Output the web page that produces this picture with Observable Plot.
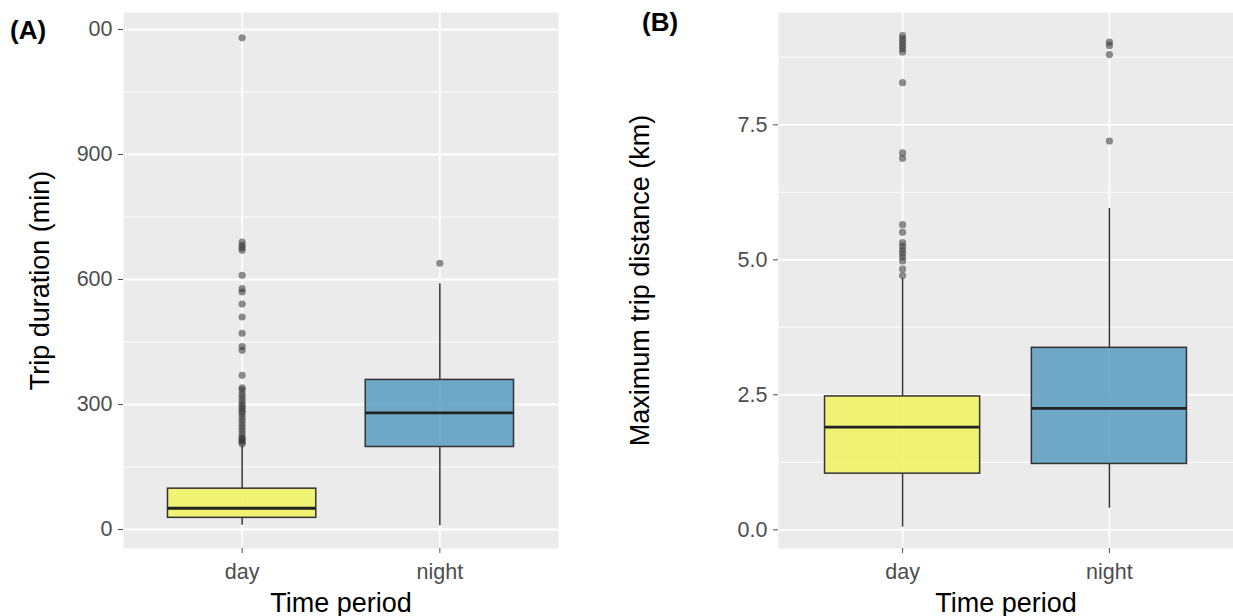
<!DOCTYPE html>
<html>
<head>
<meta charset="utf-8">
<script src="https://cdn.jsdelivr.net/npm/d3@7"></script>
<script src="https://cdn.jsdelivr.net/npm/@observablehq/plot@0.6"></script>
<style>
  html, body { margin: 0; padding: 0; background: #fff; }
  #wrap { position: relative; width: 1233px; height: 616px; overflow: hidden; font-family: "Liberation Sans", Arial, sans-serif; }
  .panel { position: absolute; top: 0; }
  .tag { position: absolute; font-family: "Liberation Sans", Arial, sans-serif; font-weight: bold; font-size: 26px; color: #000; background: #fff; line-height: 1; }
</style>
</head>
<body>
<div id="wrap">
  <div class="panel" id="pA" style="left:0px"></div>
  <div class="panel" id="pB" style="left:600px"></div>
  <div class="tag" style="left:0px;top:0px;width:88px;height:44px;padding:17px 0 0 10px;box-sizing:border-box;">(A)</div>
  <div class="tag" style="left:642px;top:9px;">(B)</div>
</div>
<script>
// ---- data ----
const periods = ["day", "night"];
const periodColors = ["#F1F35F", "#599BC1"];

// Panel A: trip duration (min)
const durLo  = [10, 9];
const durQ1  = [28, 198];
const durMed = [51, 280];
const durQ3  = [98, 359];
const durHi  = [200, 590];
const durOutDay = [1180, 690, 682, 676, 670, 610, 578, 570, 541, 510, 471, 439, 430, 370, 340, 335,
  325, 318, 310, 302, 296, 290, 284, 278, 270, 262, 254, 246, 238, 230, 222, 218, 214, 210, 206];
const durOutNight = [639];
const durTicks = [0, 300, 600, 900, 1200];
const durMinor = [150, 450, 750, 1050];

// Panel B: maximum trip distance (km)
const distLo  = [0.05, 0.40];
const distQ1  = [1.04, 1.22];
const distMed = [1.90, 2.25];
const distQ3  = [2.47, 3.37];
const distHi  = [4.65, 5.95];
const distOutDay = [9.15, 9.09, 9.03, 8.97, 8.91, 8.85, 8.28, 6.98, 6.88, 5.65, 5.51,
  5.32, 5.25, 5.18, 5.12, 5.05, 4.98, 4.83, 4.71];
const distOutNight = [9.03, 8.97, 8.80, 7.20];
const distTicks = [0, 2.5, 5, 7.5];
const distMinor = [1.25, 3.75, 6.25, 8.75];

// ---- builder ----
function panel({width, marginLeft, marginRight, yDomain, lo, q1, med, q3, hi, outs, ticks, minor, tickFormat, yLabel}) {
  const stats = periods.map((p, k) => ({i: k + 1, p, lo: lo[k], q1: q1[k], med: med[k], q3: q3[k], hi: hi[k], fill: periodColors[k]}));
  const pts = [];
  outs.forEach((arr, k) => arr.forEach(v => pts.push({i: k + 1, v})));
  const hw = 0.375;
  return Plot.plot({
    width, height: 616,
    marginLeft, marginRight, marginTop: 12, marginBottom: 68,
    style: {fontFamily: "Liberation Sans, Arial, sans-serif", background: "transparent", overflow: "visible"},
    x: {type: "linear", domain: [0.4, 2.6], axis: null},
    y: {domain: yDomain, axis: null},
    marks: [
      Plot.frame({fill: "#EBEBEB", stroke: "none"}),
      Plot.ruleY(minor, {stroke: "#fff", strokeWidth: 1.1}),
      Plot.ruleY(ticks, {stroke: "#fff", strokeWidth: 1.8}),
      Plot.ruleX([1, 2], {stroke: "#fff", strokeWidth: 1.8}),
      Plot.ruleX(stats, {x: "i", y1: "lo", y2: "q1", stroke: "#333", strokeWidth: 1.5}),
      Plot.ruleX(stats, {x: "i", y1: "q3", y2: "hi", stroke: "#333", strokeWidth: 1.5}),
      Plot.rect(stats, {x1: d => d.i - hw, x2: d => d.i + hw, y1: "q1", y2: "q3", fill: d => d.fill, fillOpacity: 0.85, stroke: "#333", strokeWidth: 1.5}),
      Plot.ruleY(stats, {y: "med", x1: d => d.i - hw, x2: d => d.i + hw, stroke: "#222", strokeWidth: 2.8}),
      Plot.dot(pts, {x: "i", y: "v", r: 3.6, fill: "#333", fillOpacity: 0.55, stroke: "none"}),
      Plot.axisY(ticks, {tickSize: 5, tickPadding: 6, fontSize: 21.5, color: "#4d4d4d", tickFormat, label: null}),
      Plot.axisX([1, 2], {tickSize: 5, tickPadding: 10, fontSize: 21.5, color: "#4d4d4d", tickFormat: d => periods[d - 1], label: null}),
      Plot.text(["Time period"], {frameAnchor: "bottom", lineAnchor: "bottom", dy: 63, fontSize: 27, fill: "#000", text: d => d}),
      Plot.text([yLabel], {frameAnchor: "left", textAnchor: "middle", lineAnchor: "middle", rotate: -90, dx: -(marginLeft - 40), fontSize: 27, fill: "#000", text: d => d})
    ]
  });
}

// y domains chosen to reproduce ggplot's 5% expansion around the data
document.getElementById("pA").append(panel({
  width: 600, marginLeft: 123, marginRight: 42,
  yDomain: [-45.6, 1240.8],
  lo: durLo, q1: durQ1, med: durMed, q3: durQ3, hi: durHi,
  outs: [durOutDay, durOutNight],
  ticks: durTicks, minor: durMinor,
  tickFormat: d => String(d),
  yLabel: "Trip duration (min)"
}));

document.getElementById("pB").append(panel({
  width: 633, marginLeft: 178, marginRight: 0,
  yDomain: [-0.346, 9.58],
  lo: distLo, q1: distQ1, med: distMed, q3: distQ3, hi: distHi,
  outs: [distOutDay, distOutNight],
  ticks: distTicks, minor: distMinor,
  tickFormat: d => d.toFixed(1),
  yLabel: "Maximum trip distance (km)"
}));
</script>
</body>
</html>
